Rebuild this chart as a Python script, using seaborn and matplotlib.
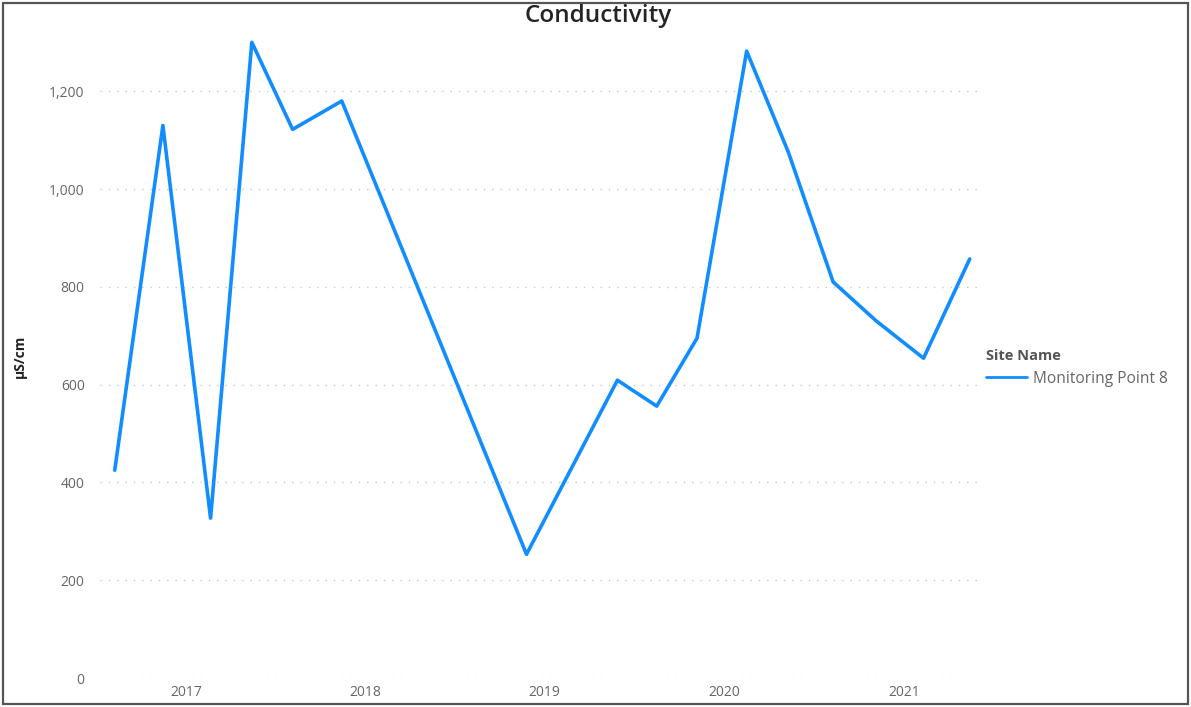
import matplotlib
matplotlib.use("Agg")
import matplotlib.pyplot as plt
import matplotlib.dates as mdates
from matplotlib.ticker import FuncFormatter, FixedLocator
from matplotlib.patches import Rectangle
import seaborn as sns
import pandas as pd

# ---- data ----
dates = ["2016-08-09", "2016-11-15", "2017-02-20", "2017-05-15", "2017-08-06",
         "2017-11-14", "2018-11-25", "2019-05-29", "2019-08-17", "2019-11-07",
         "2020-02-16", "2020-05-11", "2020-08-10", "2020-11-06", "2021-02-10",
         "2021-05-15"]
conductivity = [425, 1130, 327, 1300, 1122, 1180, 253, 609, 556, 695,
                1282, 1075, 810, 730, 654, 857]
site = ["Monitoring Point 8"] * len(dates)
y_ticks = [0, 200, 400, 600, 800, 1000, 1200]
x_years = ["2017", "2018", "2019", "2020", "2021"]

df = pd.DataFrame({"Date": pd.to_datetime(dates),
                   "Conductivity": conductivity,
                   "Site Name": site})

sns.set_style("white")
plt.rcParams["font.family"] = ["Open Sans", "DejaVu Sans"]

W, H = 1191, 707
fig = plt.figure(figsize=(W / 100, H / 100), dpi=100)
ax = fig.add_axes([100 / W, 1 - 678 / H, (983 - 100) / W, (678 - 35) / H])

sns.lineplot(data=df, x="Date", y="Conductivity", hue="Site Name",
             palette=["#118DFF"], linewidth=2.6, ax=ax, legend=True)

ax.set_xlim(pd.Timestamp("2016-07-10"), pd.Timestamp("2021-06-11"))
ax.set_ylim(0, 1315)
ax.yaxis.set_major_locator(FixedLocator(y_ticks))
ax.yaxis.set_major_formatter(FuncFormatter(lambda v, p: f"{int(v):,}"))
ax.xaxis.set_major_locator(mdates.YearLocator())
ax.xaxis.set_major_formatter(mdates.DateFormatter("%Y"))

ax.grid(axis="y", color="#c8c8c8", linestyle=(0, (1, 5)), linewidth=1.0)
ax.grid(axis="x", visible=False)
for s in ax.spines.values():
    s.set_visible(False)
ax.tick_params(axis="both", length=0, labelsize=10, labelcolor="#666666")
ax.tick_params(axis="y", pad=11)
ax.tick_params(axis="x", pad=5)
ax.set_xlabel("")
ax.set_ylabel("µS/cm", fontsize=10, fontweight="bold", color="#222222")
ax.yaxis.set_label_coords((27 - 100) / 883, 0.5)

fig.suptitle("Conductivity", x=598 / W, y=1 - 16 / H, va="center",
             fontsize=17.5, color="#252423", fontweight="semibold")

leg = ax.legend(title="Site Name", loc="upper left",
                bbox_to_anchor=(980 / W, 1 - 343 / H), bbox_transform=fig.transFigure,
                frameon=False, fontsize=11.2, title_fontsize=10.5,
                handlelength=2.6, handletextpad=0.4, borderaxespad=0,
                labelspacing=0.2)
leg.get_title().set_fontweight("bold")
leg.get_title().set_color("#555555")
leg._legend_box.align = "left"
leg._legend_box.sep = 5.5
for t in leg.get_texts():
    t.set_color("#666666")
for l in leg.get_lines():
    l.set_linewidth(2)

fig.patches.append(Rectangle((3 / W, 3 / H), 1 - 6 / W, 1 - 6 / H,
                             transform=fig.transFigure, fill=False,
                             edgecolor="#555555", linewidth=1.6))

fig.savefig("out.png", dpi=100)
